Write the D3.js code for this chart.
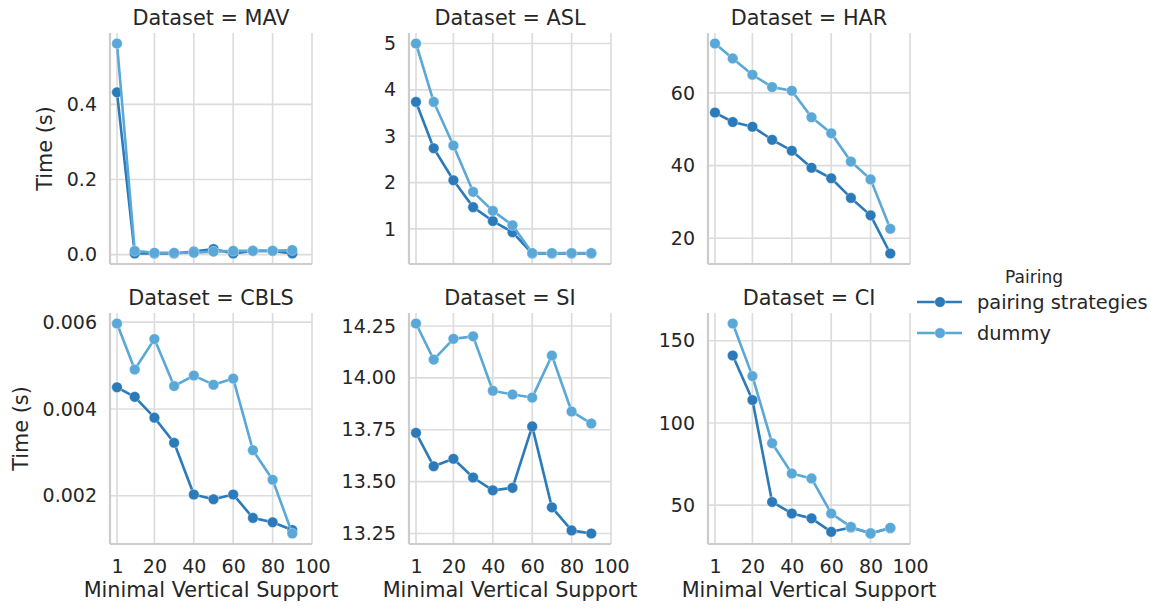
<!DOCTYPE html>
<html>
<head>
<meta charset="utf-8">
<script src="https://cdn.jsdelivr.net/npm/d3@7"></script>
<style>
  html, body { margin: 0; padding: 0; background: #ffffff; }
  svg { display: block; font-family: "DejaVu Sans", sans-serif; }
</style>
</head>
<body>
<svg id="chart" width="1151" height="608"></svg>
<script>
// Minimal vertical support thresholds (shared x values)
const supports = [1, 10, 20, 30, 40, 50, 60, 70, 80, 90];
const xTicks = [1, 20, 40, 60, 80, 100];

const seriesNames = ["pairing strategies", "dummy"];
const seriesColors = ["#2b7bba", "#5aa8d7"];

// Runtime in seconds per dataset (null = not measured)
const mavPairing = [0.432, 0.003, 0.003, 0.003, 0.008, 0.015, 0.003, 0.010, 0.010, 0.003];
const mavDummy   = [0.562, 0.010, 0.005, 0.005, 0.005, 0.008, 0.010, 0.010, 0.010, 0.012];

const aslPairing = [3.74, 2.74, 2.05, 1.47, 1.17, 0.93, 0.47, 0.47, 0.47, 0.47];
const aslDummy   = [5.00, 3.74, 2.80, 1.80, 1.39, 1.08, 0.48, 0.48, 0.48, 0.48];

const harPairing = [54.6, 52.0, 50.7, 47.1, 44.1, 39.4, 36.5, 31.1, 26.3, 15.8];
const harDummy   = [73.6, 69.5, 65.0, 61.6, 60.6, 53.3, 48.9, 41.1, 36.2, 22.6];

const cblsPairing = [0.00450, 0.00428, 0.00380, 0.00322, 0.00203, 0.00192, 0.00203, 0.00149, 0.00139, 0.00121];
const cblsDummy   = [0.00597, 0.00491, 0.00561, 0.00453, 0.00477, 0.00456, 0.00470, 0.00305, 0.00237, 0.00113];

const siPairing = [13.735, 13.574, 13.610, 13.520, 13.458, 13.470, 13.766, 13.376, 13.265, 13.250];
const siDummy   = [14.262, 14.088, 14.188, 14.200, 13.938, 13.920, 13.905, 14.108, 13.838, 13.780];

const ciPairing = [null, 141.0, 114.0, 52.0, 45.0, 42.0, 33.8, 36.5, 33.0, 36.0];
const ciDummy   = [null, 160.5, 128.5, 87.7, 69.3, 66.3, 45.0, 36.8, 32.8, 36.3];

const datasets = ["MAV", "ASL", "HAR", "CBLS", "SI", "CI"];
const pairingValues = [mavPairing, aslPairing, harPairing, cblsPairing, siPairing, ciPairing];
const dummyValues = [mavDummy, aslDummy, harDummy, cblsDummy, siDummy, ciDummy];
const yTickValues = [
  [0.0, 0.2, 0.4],
  [1, 2, 3, 4, 5],
  [20, 40, 60],
  [0.002, 0.004, 0.006],
  [13.25, 13.50, 13.75, 14.00, 14.25],
  [50, 100, 150]
];
const yTickFormats = [".1f", "d", "d", ".3f", ".2f", "d"];

// Layout of the 2 x 3 facet grid
const colLeft = [110, 409, 708];
const rowTop = [33, 313];
const panelW = 202;
const panelH = 231;
// horizontal offset of the "Time (s)" label, per row (wider tick labels push it left)
const yLabelOffset = [-65, -89];
const textColor = "#262626";
const gridColor = "#dcdcdc";
const spineColor = "#cccccc";

const svg = d3.select("#chart");

const x = d3.scaleLinear().domain([-2.55, 100]).range([0, panelW]);

datasets.forEach((name, i) => {
  const row = Math.floor(i / 3), col = i % 3;
  const g = svg.append("g").attr("transform", `translate(${colLeft[col]},${rowTop[row]})`);

  const all = pairingValues[i].concat(dummyValues[i]).filter(v => v !== null);
  const lo = d3.min(all), hi = d3.max(all), pad = (hi - lo) * 0.05;
  const y = d3.scaleLinear().domain([lo - pad, hi + pad]).range([panelH, 0]);

  // grid
  g.append("g").selectAll("line").data(xTicks).join("line")
    .attr("x1", d => x(d)).attr("x2", d => x(d))
    .attr("y1", 0).attr("y2", panelH)
    .attr("stroke", gridColor).attr("stroke-width", 1.7);
  g.append("g").selectAll("line").data(yTickValues[i]).join("line")
    .attr("x1", 0).attr("x2", panelW)
    .attr("y1", d => y(d)).attr("y2", d => y(d))
    .attr("stroke", gridColor).attr("stroke-width", 1.7);

  // y axis (labels only)
  const yAxis = d3.axisLeft(y).tickValues(yTickValues[i])
    .tickFormat(d3.format(yTickFormats[i])).tickSize(0).tickPadding(13);
  const ya = g.append("g").call(yAxis);
  ya.select(".domain").remove();
  ya.selectAll("text").attr("font-size", 19).attr("fill", textColor)
    .attr("font-family", "DejaVu Sans");

  // x axis labels on bottom row only
  if (row === 1) {
    const xAxis = d3.axisBottom(x).tickValues(xTicks).tickFormat(d3.format("d"))
      .tickSize(0).tickPadding(16);
    const xa = g.append("g").attr("transform", `translate(0,${panelH})`).call(xAxis);
    xa.select(".domain").remove();
    xa.selectAll("text").attr("font-size", 19).attr("fill", textColor)
      .attr("font-family", "DejaVu Sans");
    g.append("text")
      .attr("x", panelW / 2).attr("y", panelH + 53)
      .attr("text-anchor", "middle").attr("font-size", 20.8).attr("fill", textColor)
      .text("Minimal Vertical Support");
  }

  // spines (left and bottom)
  g.append("line").attr("x1", 0).attr("x2", 0).attr("y1", 0).attr("y2", panelH)
    .attr("stroke", spineColor).attr("stroke-width", 2.2);
  g.append("line").attr("x1", 0).attr("x2", panelW).attr("y1", panelH).attr("y2", panelH)
    .attr("stroke", spineColor).attr("stroke-width", 2.2);

  // title
  g.append("text")
    .attr("x", panelW / 2).attr("y", -8)
    .attr("text-anchor", "middle").attr("font-size", 20.8).attr("fill", textColor)
    .text(`Dataset = ${name}`);

  // y label on first column
  if (col === 0) {
    g.append("text")
      .attr("transform", `translate(${yLabelOffset[row]},${panelH / 2}) rotate(-90)`)
      .attr("text-anchor", "middle").attr("dominant-baseline", "central")
      .attr("font-size", 20.8).attr("fill", textColor)
      .text("Time (s)");
  }

  // series
  const line = d3.line()
    .defined(d => d.v !== null)
    .x(d => x(d.s)).y(d => y(d.v));

  [pairingValues[i], dummyValues[i]].forEach((vals, k) => {
    const pts = supports.map((s, j) => ({ s, v: vals[j] }));
    g.append("path").datum(pts)
      .attr("d", line).attr("fill", "none")
      .attr("stroke", seriesColors[k]).attr("stroke-width", 2.6)
      .attr("stroke-linejoin", "round");
    g.append("g").selectAll("circle").data(pts.filter(d => d.v !== null)).join("circle")
      .attr("cx", d => x(d.s)).attr("cy", d => y(d.v)).attr("r", 5.3)
      .attr("fill", seriesColors[k])
      .attr("stroke", "#ffffff").attr("stroke-width", 0.6).attr("stroke-opacity", 0.6);
  });
});

// legend
const lg = svg.append("g");
lg.append("text").attr("x", 1034).attr("y", 283)
  .attr("text-anchor", "middle").attr("font-size", 17).attr("fill", textColor)
  .text("Pairing");
const legendY = [302, 333];
seriesNames.forEach((nm, k) => {
  lg.append("line").attr("x1", 917).attr("x2", 962)
    .attr("y1", legendY[k]).attr("y2", legendY[k])
    .attr("stroke", seriesColors[k]).attr("stroke-width", 2.6);
  lg.append("circle").attr("cx", 940).attr("cy", legendY[k]).attr("r", 5.3)
    .attr("fill", seriesColors[k]).attr("stroke", "#ffffff")
    .attr("stroke-width", 0.6).attr("stroke-opacity", 0.6);
  lg.append("text").attr("x", 977).attr("y", legendY[k] + 6.5)
    .attr("font-size", 19.4).attr("fill", textColor)
    .text(nm);
});
</script>
</body>
</html>
